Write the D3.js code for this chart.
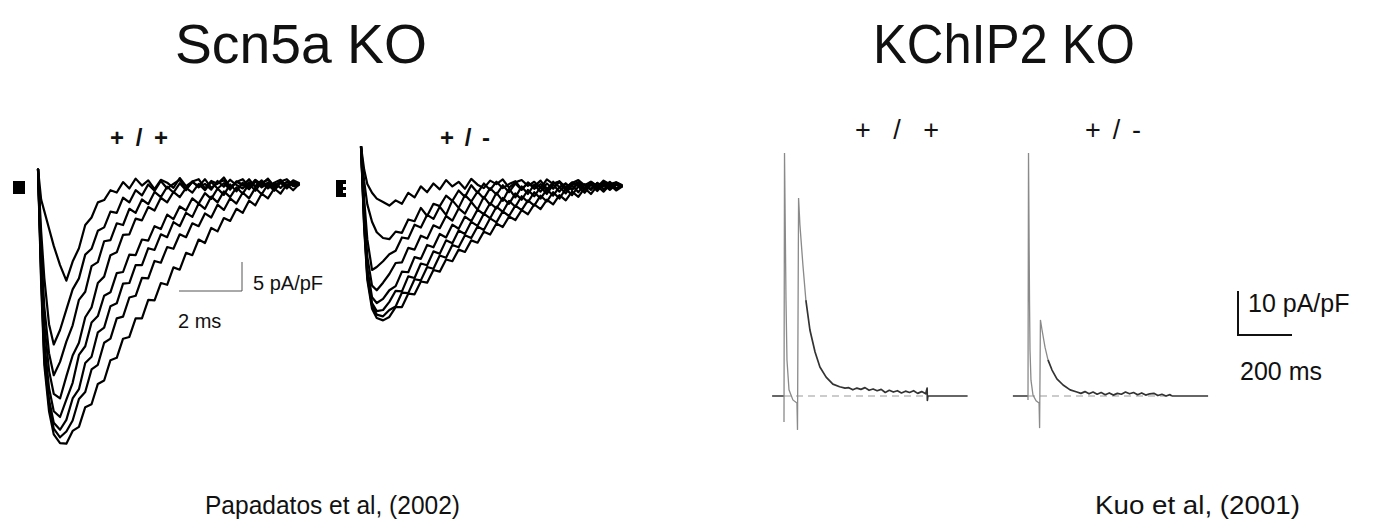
<!DOCTYPE html>
<html>
<head>
<meta charset="utf-8">
<script src="https://cdn.jsdelivr.net/npm/d3@7"></script>
<style>
  body { margin: 0; background: #fff; }
  text { font-family: "Liberation Sans", Arial, sans-serif; fill: #111; }
</style>
</head>
<body>
<svg id="chart"></svg>
<script>
// Scn5a KO: sodium current families (time in ms, current in pA/pF)
const naTime = [0, 0.1, 0.2, 0.35, 0.5, 0.7, 0.9, 1.1, 1.3, 1.5, 1.7, 1.9, 2.1, 2.3, 2.5, 2.7, 2.9,
  3.1, 3.3, 3.5, 3.7, 3.9, 4.1, 4.3, 4.5, 4.7, 4.9, 5.1, 5.3, 5.5, 5.7, 5.9, 6.1, 6.3, 6.5, 6.7,
  6.9, 7.1, 7.3, 7.5, 7.7, 7.9, 8.1, 8.3];

const naWT = [
  [2.8, -2.5, -4.5, -7.5, -10.5, -13.8, -16.5, -13.2, -10.9, -6.9, -5.6, -3.0, -2.6, -0.9, -1.3, 0.5, -0.6, 1.1, -0.1, 0.8, -0.7, 0.9, 0.4, -0.5, 1.2, -0.2, 0.6, 1.0, -0.6, 0.7, 0.2, 1.3, -0.4, 0.5, 1.0, -0.3, 0.9, 0.1, 1.1, -0.2, 0.6, 1.0, 0.0, 0.4],
  [2.8, -8, -16, -24, -27.5, -25, -21.5, -18.0, -16.1, -12.0, -11.0, -7.9, -7.3, -4.6, -4.8, -2.2, -3.0, -0.9, -1.8, 0.1, -1.0, 0.7, -0.6, 0.2, 0.9, -0.7, 0.5, -0.2, 1.0, -0.5, 0.3, 0.8, -0.6, 0.6, -0.1, 1.0, -0.4, 0.4, 0.9, -0.3, 0.7, -0.2, 0.8, 0.3],
  [2.8, -11, -21, -29, -32.8, -30.5, -27, -24.2, -19.8, -18.4, -14.0, -13.3, -9.7, -9.5, -6.6, -6.9, -4.1, -4.8, -2.5, -3.3, -1.2, -2.1, -0.3, -1.3, 0.3, -0.9, 0.6, -0.4, 0.2, -0.8, 0.7, -0.3, 0.9, 0.0, -0.6, 0.5, -0.2, 0.8, -0.5, 0.4, 0.9, -0.4, 0.5, 0.2],
  [2.8, -13, -24, -32, -36, -36.8, -33, -29.4, -27.2, -22.8, -21.1, -16.9, -15.8, -12.1, -11.6, -8.6, -8.5, -5.8, -6.1, -3.8, -4.4, -2.2, -3.0, -1.2, -2.1, -0.5, -1.3, 0.2, -0.9, 0.5, -0.6, 0.3, -0.8, 0.6, 0.1, -0.7, 0.8, -0.2, 0.4, -0.6, 0.7, 0.0, 0.6, 0.1],
  [2.8, -14, -27, -35, -39, -40, -37, -34.1, -29.3, -27.8, -23.7, -22.6, -19.1, -18.5, -15.2, -15.0, -12.0, -12.1, -9.4, -9.6, -7.1, -7.6, -5.1, -5.9, -3.7, -4.4, -2.3, -3.2, -1.4, -2.4, -0.6, -1.7, 0.1, -1.1, 0.4, -0.7, 0.6, -0.4, 0.3, -0.8, 0.5, -0.3, 0.4, 0],
  [2.8, -15, -29, -37, -41, -42.2, -40.5, -36.8, -35.2, -30.7, -29.6, -25.4, -24.6, -20.9, -20.4, -17.0, -16.9, -13.8, -13.8, -10.9, -11.2, -8.5, -9.0, -6.4, -7.1, -4.8, -5.5, -3.2, -4.1, -2.0, -3.0, -1.1, -2.1, -0.4, -1.5, 0.2, -1.0, 0.5, -0.6, 0.3, -0.5, 0.6, -0.2, 0],
  [2.8, -16, -30, -38, -42, -43.5, -42.5, -40.6, -36.9, -35.7, -31.8, -31.0, -27.2, -26.5, -23.0, -22.7, -19.4, -19.1, -16.0, -16.1, -13.1, -13.4, -10.7, -11.0, -8.5, -9.0, -6.6, -7.1, -4.9, -5.6, -3.4, -4.3, -2.3, -3.2, -1.3, -2.3, -0.5, -1.6, 0.1, -1.0, 0.4, -0.6, 0.5, -0.1],
  [2.8, -17, -31, -39, -43, -44.5, -44.6, -42.4, -41.7, -38.3, -37.8, -34.3, -33.7, -30.2, -29.8, -26.5, -26.2, -23.0, -23.0, -19.8, -19.9, -16.9, -17.2, -14.2, -14.6, -11.7, -12.1, -9.4, -10.0, -7.4, -8.0, -5.7, -6.2, -4.1, -4.8, -2.7, -3.5, -1.5, -2.3, -0.6, -1.5, 0.1, -0.9, 0.2]
];

const naHet = [
  [7, 3, 0.5, -1, -2, -2.6, -3.2, -2.3, -2.9, -1.0, -1.8, 0.1, -0.9, 0.6, -0.4, 1.2, 0.1, 0.9, -0.3, 1.4, 0.4, -0.2, 1.1, 0.5, 1.3, -0.1, 0.8, 1.2, 0.2, 0.9, -0.2, 1.3, 0.5, 1.0, -0.1, 0.7, 1.2, 0.3, 0.9, 0.0, 1.1, 0.5, 0.8, 0.3],
  [7, 1, -3, -6, -7.8, -8.8, -9, -7.7, -7.9, -5.6, -5.9, -3.6, -5.0, -2.9, -3.3, -1.5, -2.4, -0.6, -1.7, 0.3, -1.0, 0.6, -0.5, 0.9, -0.2, 0.5, 1.0, -0.4, 0.7, 0.1, 1.1, -0.3, 0.6, 0.9, -0.2, 0.8, 0.3, -0.4, 0.9, 0.2, 0.7, -0.1, 0.8, 0.2],
  [7, -2, -9, -14.3, -13.8, -12.8, -11.6, -11.0, -8.7, -8.9, -6.5, -7.0, -4.8, -5.5, -3.4, -4.8, -2.3, -3.6, -1.4, -2.5, -0.8, -2.0, -0.2, -1.3, 0.3, -0.9, 0.6, -0.5, 0.8, -0.3, 0.5, -0.7, 0.9, 0.0, 0.6, -0.4, 0.8, 0.2, -0.3, 0.7, 0.1, 0.9, -0.2, 0.3],
  [7, -4, -12, -17, -17.8, -16.5, -15, -13.1, -13.0, -10.5, -10.8, -8.4, -8.9, -6.6, -7.1, -5.0, -5.8, -3.7, -4.6, -2.6, -3.9, -1.7, -3.1, -1.0, -2.4, -0.3, -1.8, 0.1, -1.2, 0.4, -0.8, 0.6, -0.3, 0.9, -0.6, 0.4, 0.8, -0.5, 0.6, -0.1, 0.9, 0.0, 0.5, 0.1],
  [7, -5, -14, -19, -20, -19.3, -17.8, -17.1, -14.6, -14.7, -12.1, -12.4, -10.0, -10.4, -8.1, -8.7, -6.5, -7.2, -5.1, -5.9, -3.9, -4.7, -2.8, -3.7, -1.9, -2.9, -1.1, -2.2, -0.5, -1.6, 0.0, -1.2, 0.4, -0.8, 0.6, -0.5, 0.7, -0.3, 0.6, -0.4, 0.5, -0.3, 0.6, 0.1],
  [7, -6, -15, -20, -21.4, -21.2, -19.8, -17.9, -18.0, -15.4, -15.7, -13.2, -13.5, -11.1, -11.5, -9.2, -9.7, -7.5, -8.1, -6.0, -6.7, -4.6, -5.4, -3.4, -4.3, -2.4, -3.4, -1.6, -2.6, -0.9, -2.0, -0.4, -1.5, 0.0, -1.1, 0.3, -0.9, 0.5, -0.5, 0.7, -0.4, 0.5, -0.2, 0.2],
  [7, -6.5, -15.5, -20.5, -22, -22.3, -21.2, -20.6, -18.2, -18.3, -15.9, -16.1, -13.8, -14.1, -11.8, -12.2, -10.0, -10.4, -8.3, -8.8, -6.8, -7.4, -5.4, -6.1, -4.2, -5.0, -3.2, -4.0, -2.3, -3.2, -1.5, -2.5, -0.9, -2.0, -0.3, -1.4, 0.1, -1.0, 0.4, -0.7, 0.5, -0.5, 0.4, 0.0],
  [7, -7, -16, -21, -22.6, -23, -22.4, -20.7, -20.7, -18.4, -18.5, -16.3, -16.5, -14.3, -14.6, -12.5, -12.8, -10.8, -11.2, -9.2, -9.6, -7.7, -8.2, -6.3, -6.9, -5.1, -5.7, -4.0, -4.7, -3.0, -3.8, -2.2, -3.0, -1.4, -2.3, -0.8, -1.7, -0.2, -1.2, 0.2, -0.8, 0.4, -0.6, 0.1]
];

// KChIP2 KO: transient outward K current (time in ms, current in pA/pF)
const itoWTTime = [0, 1.9, 7.4, 11, 18.5, 33, 48, 50, 54, 59, 70, 81, 96, 115, 133, 156, 181, 206, 226, 240,
  255, 270, 285, 300, 315, 330, 345, 360, 375, 390, 405, 420, 435, 450, 465, 480, 495, 510, 525, 530, 531, 533];
const itoWT = [-5.9, 55.2, 21.8, 8.2, 1.4, -0.9, -1.6, -7.7, 45, 38.9, 29.8, 21.8, 15, 10, 6.6, 4.3, 2.7, 2.1, 1.8, 1.9,
  1.4, 1.8, 1.5, 1.9, 1.3, 1.6, 1.2, 1.5, 0.8, 1.3, 0.9, 1.2, 0.7, 1.1, 0.8, 1.2, 0.6, 1.0, 0.5, 1.8, -1.0, 0];

const itoHetTime = [0, 1.9, 5.6, 7.4, 11, 18.5, 30, 41, 43, 46, 52, 63, 74, 89, 107, 130, 156, 181, 196, 211,
  226, 241, 256, 271, 286, 301, 316, 331, 346, 361, 376, 391, 406, 421, 436, 451, 466, 481, 496, 511, 526, 533];
const itoHet = [-0.9, 55.2, 21.8, 10.5, 3.6, 0.2, -1.1, -1.6, -7.3, 17.3, 15, 11.1, 8.2, 5.9, 3.9, 2.5, 1.4, 0.9, 0.6, 1.0,
  0.5, 0.9, 0.4, 0.8, 0.3, 0.7, 0.2, 0.6, 0.4, 0.9, 0.5, 0.8, 0.3, 0.7, 0.2, 0.5, 0.6, 0.1, 0.4, 0.0, 0.3, 0];

const W = 1377, H = 527;

const svg = d3.select("#chart")
  .attr("width", W)
  .attr("height", H);

// ---- scales ----
const xNaWT = d3.scaleLinear().domain([0, 1]).range([38, 69.5]);
const yNaWT = d3.scaleLinear().domain([0, -10]).range([185, 243]);
const xNaHet = d3.scaleLinear().domain([0, 1]).range([361, 392.5]);
const yNaHet = d3.scaleLinear().domain([0, -10]).range([187, 245]);

const xItoWT = d3.scaleLinear().domain([0, 100]).range([784, 811]);
const xItoHet = d3.scaleLinear().domain([0, 100]).range([1028, 1055]);
const yIto = d3.scaleLinear().domain([0, 10]).range([396, 352]);

// ---- sodium current families ----
function drawFamily(traces, x, y) {
  const line = d3.line()
    .defined((d, i) => i < naTime.length)
    .x((d, i) => x(naTime[i]))
    .y(d => y(d));
  svg.append("g")
    .selectAll("path")
    .data(traces)
    .enter()
    .append("path")
    .attr("d", line)
    .attr("fill", "none")
    .attr("stroke", "#000")
    .attr("stroke-width", 2.2)
    .attr("stroke-linejoin", "round");
}
drawFamily(naWT, xNaWT, yNaWT);
drawFamily(naHet, xNaHet, yNaHet);

// protocol markers to the left of each family
svg.append("rect").attr("x", 13).attr("y", 181).attr("width", 12).attr("height", 13).attr("fill", "#000");
svg.append("path")
  .attr("d", "M336,180 h10 v4 h-3 v3 h3 v3 h-3 v3 h3 v4 h-10 z")
  .attr("fill", "#000");

// left scale bar: 2 ms / 5 pA/pF
const sbX0 = 179, sbY0 = 291;
const sbW = xNaWT(2) - xNaWT(0);
const sbH = yNaWT(-5) - yNaWT(0);
svg.append("path")
  .attr("d", `M${sbX0},${sbY0} H${sbX0 + sbW} V${sbY0 - sbH}`)
  .attr("fill", "none")
  .attr("stroke", "#555")
  .attr("stroke-width", 1);
svg.append("text").attr("x", 253).attr("y", 290).attr("font-size", 20).text("5 pA/pF");
svg.append("text").attr("x", 178).attr("y", 328).attr("font-size", 20).text("2 ms");

// ---- Ito traces ----
function drawIto(time, vals, x, t0, t1, tEnd) {
  const pts = time.map((t, i) => [t, vals[i]]);
  const line = d3.line().x(d => x(d[0])).y(d => yIto(d[1]));

  // zero-current baseline: solid stubs, dashed under the trace
  svg.append("line")
    .attr("x1", x(t0)).attr("x2", x(0))
    .attr("y1", yIto(0)).attr("y2", yIto(0))
    .attr("stroke", "#333").attr("stroke-width", 1.5);
  svg.append("line")
    .attr("x1", x(0)).attr("x2", x(t1))
    .attr("y1", yIto(0)).attr("y2", yIto(0))
    .attr("stroke", "#999").attr("stroke-width", 1.2)
    .attr("stroke-dasharray", "7,5");
  svg.append("line")
    .attr("x1", x(t1)).attr("x2", x(tEnd))
    .attr("y1", yIto(0)).attr("y2", yIto(0))
    .attr("stroke", "#333").attr("stroke-width", 1.5);

  const peak2 = 8 + d3.maxIndex(vals.slice(8));
  svg.append("path")
    .datum(pts.slice(0, peak2 + 4))
    .attr("d", line)
    .attr("fill", "none")
    .attr("stroke", "#8a8a8a")
    .attr("stroke-width", 1.3);
  svg.append("path")
    .datum(pts.slice(peak2 + 3))
    .attr("d", line)
    .attr("fill", "none")
    .attr("stroke", "#333")
    .attr("stroke-width", 1.7)
    .attr("stroke-linejoin", "round");
}
drawIto(itoWTTime, itoWT, xItoWT, -44, 533, 680);
drawIto(itoHetTime, itoHet, xItoHet, -56, 533, 667);

// right scale bar: 200 ms / 10 pA/pF
const rbX0 = 1238, rbY0 = 335;
const rbW = xItoWT(200) - xItoWT(0);
const rbH = yIto(0) - yIto(10);
svg.append("path")
  .attr("d", `M${rbX0},${rbY0 - rbH} V${rbY0} H${rbX0 + rbW}`)
  .attr("fill", "none")
  .attr("stroke", "#111")
  .attr("stroke-width", 2);
svg.append("text").attr("x", 1248).attr("y", 312).attr("font-size", 25).text("10 pA/pF");
svg.append("text").attr("x", 1240).attr("y", 380).attr("font-size", 25).text("200 ms");

// ---- titles and labels ----
svg.append("text").attr("x", 175).attr("y", 63).attr("font-size", 56)
  .attr("textLength", 252).attr("lengthAdjust", "spacingAndGlyphs").text("Scn5a KO");
svg.append("text").attr("x", 873).attr("y", 63).attr("font-size", 56)
  .attr("textLength", 262).attr("lengthAdjust", "spacingAndGlyphs").text("KChIP2 KO");

const genos = [
  { label: "+ / +", x: 110, y: 146, len: 58, size: 24, bold: true },
  { label: "+ / -", x: 440, y: 146, len: 50, size: 24, bold: true },
  { label: "+ / +", x: 855, y: 139, len: 84, size: 27, bold: false },
  { label: "+ / -", x: 1085, y: 139, len: 56, size: 27, bold: false }
];
svg.selectAll(".geno")
  .data(genos)
  .enter()
  .append("text")
  .attr("class", "geno")
  .attr("x", d => d.x)
  .attr("y", d => d.y)
  .attr("font-size", d => d.size)
  .attr("font-weight", d => d.bold ? "bold" : "normal")
  .attr("textLength", d => d.len)
  .attr("lengthAdjust", "spacing")
  .text(d => d.label);

svg.append("text").attr("x", 205).attr("y", 514).attr("font-size", 26)
  .attr("textLength", 255).attr("lengthAdjust", "spacingAndGlyphs").text("Papadatos et al, (2002)");
svg.append("text").attr("x", 1095).attr("y", 514).attr("font-size", 26)
  .attr("textLength", 205).attr("lengthAdjust", "spacingAndGlyphs").text("Kuo et al, (2001)");
</script>
</body>
</html>
